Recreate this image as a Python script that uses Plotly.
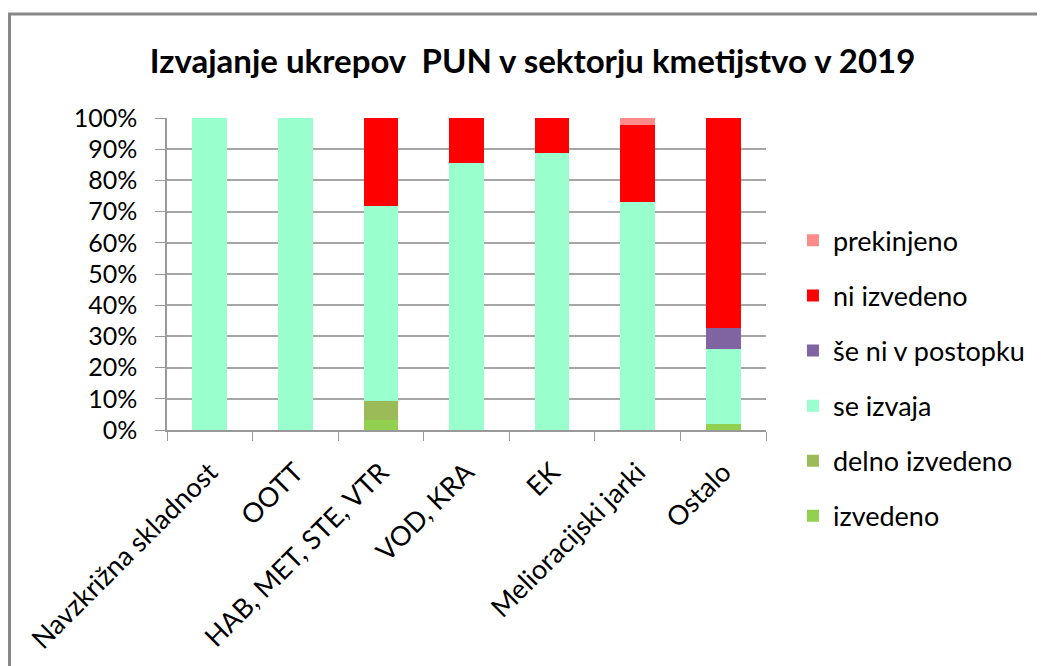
import plotly.graph_objects as go

categories = ["Navzkrižna skladnost", "OOTT", "HAB, MET, STE, VTR", "VOD, KRA",
              "EK", "Melioracijski jarki", "Ostalo"]

# shares in percent, bottom to top of each stack
izvedeno = [0, 0, 3.1, 0, 0, 0, 1.9]
delno_izvedeno = [0, 0, 6.3, 0, 0, 0, 0]
se_izvaja = [100, 100, 62.5, 85.7, 88.9, 73.2, 24.1]
se_ni_v_postopku = [0, 0, 0, 0, 0, 0, 6.7]
ni_izvedeno = [0, 0, 28.1, 14.3, 11.1, 24.4, 67.3]
prekinjeno = [0, 0, 0, 0, 0, 2.4, 0]

series = [
    ("izvedeno", izvedeno, "#92D050"),
    ("delno izvedeno", delno_izvedeno, "#9BBB59"),
    ("se izvaja", se_izvaja, "#99FFCC"),
    ("še ni v postopku", se_ni_v_postopku, "#8064A2"),
    ("ni izvedeno", ni_izvedeno, "#FF0000"),
    ("prekinjeno", prekinjeno, "#FF8A8A"),
]

FONT = "Lato"
# page body has an 8px margin, so figure coords = page coords - 8
L, T, PW, PH = 159, 110, 599, 312

fig = go.Figure()
for i, (name, vals, color) in enumerate(series):
    fig.add_trace(go.Bar(
        x=categories,
        y=vals,
        name=name,
        legendgroup=name,
        legendrank=len(series) - i,  # top of the stack listed first
        marker=dict(color=color, line=dict(width=0)),
    ))

fig.update_layout(
    barmode="stack",
    bargap=0.595,
    width=1045,
    height=666,
    margin=dict(l=L, r=1045 - L - PW, t=T, b=666 - T - PH, autoexpand=False),
    paper_bgcolor="white",
    plot_bgcolor="white",
    font=dict(family=FONT, size=25, color="#000000"),
    title=dict(
        text="<b>Izvajanje ukrepov  PUN v sektorju kmetijstvo v 2019</b>",
        x=0.502, xanchor="center",
        y=1 - 53 / 666, yanchor="middle", yref="container",
        font=dict(family=FONT, size=33, color="#000000"),
    ),
    legend=dict(
        x=1.045, xanchor="left",
        y=0.685, yanchor="top",
        traceorder="grouped",
        tracegroupgap=17,
        maxheight=420,
        font=dict(family=FONT, size=27),
        bgcolor="rgba(0,0,0,0)",
    ),
    xaxis=dict(
        tickangle=-45,
        tickson="boundaries",
        ticks="outside",
        ticklen=9,
        tickcolor="#999999",
        showline=True,
        linecolor="#999999",
        linewidth=1.5,
        showgrid=False,
        automargin=False,
        ticklabelstandoff=14,
        tickfont=dict(family=FONT, size=27),
    ),
    yaxis=dict(
        range=[0, 100],
        tickvals=[0, 10, 20, 30, 40, 50, 60, 70, 80, 90, 100],
        ticktext=[f"{v}%" for v in range(0, 101, 10)],
        ticks="outside",
        ticklen=10,
        tickcolor="#999999",
        showline=True,
        linecolor="#999999",
        linewidth=1.5,
        showgrid=True,
        gridcolor="#A6A6A6",
        gridwidth=1.5,
        zeroline=False,
        automargin=False,
        ticklabelstandoff=13,
        tickfont=dict(family=FONT, size=25),
    ),
    shapes=[dict(
        type="rect", xref="paper", yref="paper",
        x0=(1.5 - L) / PW, x1=1.6,
        y0=-1.0, y1=(T + PH - 6) / PH,
        line=dict(color="#888888", width=3),
        layer="below",
    )],
)

fig.write_html("out.html")
